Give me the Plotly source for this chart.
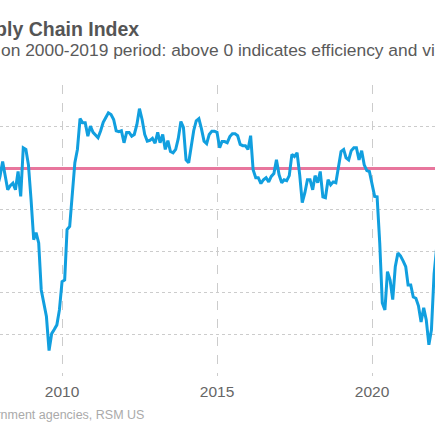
import pandas as pd
import plotly.graph_objects as go

# monthly index values, Dec 2007 .. Feb 2022 (standard deviations)
start_month = "2007-12-01"
index_values = [
    -0.45,
    -0.20, 0.16, -0.16, -0.52, -0.42, -0.36, -0.52, -0.08, -0.68, 0.49, 0.45, 0.08,
    -0.76, -1.72, -1.55, -1.80, -2.93, -3.25, -3.57, -4.39, -3.98, -3.88, -3.77, -3.41,
    -2.73, -2.69, -1.48, -1.40, -0.52, 0.13, 0.45, 1.19, 1.09, 1.09, 0.77, 1.01,
    0.86, 0.80, 0.73, 0.90, 1.10, 1.22, 1.33, 1.29, 1.17, 0.90, 0.88, 0.90,
    0.61, 0.86, 0.86, 0.77, 0.81, 1.05, 1.43, 1.17, 0.81, 0.65, 0.67, 0.72,
    0.60, 0.86, 0.61, 0.81, 0.45, 0.66, 0.40, 0.37, 0.45, 0.71, 1.12, 0.98,
    0.20, 0.13, 0.45, 0.90, 1.14, 1.19, 0.95, 0.65, 0.59, 0.81, 0.89, 0.89,
    0.86, 0.49, 0.64, 0.64, 0.61, 0.76, 0.83, 0.83, 0.78, 0.57, 0.54, 0.54,
    0.45, 0.78, -0.04, -0.23, -0.23, -0.37, -0.28, -0.23, -0.33, -0.20, -0.13, 0.20,
    -0.16, -0.35, -0.28, -0.30, -0.18, 0.33, 0.28, 0.37, -0.16, -0.83, -0.59, -0.28,
    -0.28, -0.52, -0.18, -0.35, -0.08, -0.69, -0.71, -0.28, -0.40, -0.33, -0.35, 0.08,
    0.40, 0.45, 0.25, 0.20, 0.42, 0.49, 0.49, 0.20, 0.42, 0.08, -0.06, -0.08,
    -0.35, -0.68, -0.69, -1.80, -3.24, -3.41, -2.49, -2.69, -3.16, -2.37, -2.04, -2.11,
    -2.23, -2.37, -2.81, -2.81, -3.10, -3.13, -3.31, -3.70, -3.36, -3.65, -4.25, -3.89,
    -2.55, -1.90,
]
months = pd.date_range(start=start_month, periods=len(index_values), freq="MS")

title_text = "<b>RSM US Supply Chain Index</b>"
subtitle_text = "on 2000-2019 period: above 0 indicates efficiency and vice versa"
source_text = "Source: Government agencies, RSM US"

fig = go.Figure()
fig.add_trace(go.Scatter(
    x=months, y=index_values, mode="lines",
    line=dict(color="#119fdf", width=3),
    hoverinfo="skip",
))

fig.update_layout(
    width=435,
    height=435,
    margin=dict(l=0, r=0, t=85, b=59, autoexpand=False),
    plot_bgcolor="white",
    paper_bgcolor="white",
    showlegend=False,
    font=dict(family="Liberation Sans, Arial", color="#666666"),
    xaxis=dict(
        range=["2008-01-01", "2022-01-12"],
        tickvals=["2010-01-01", "2015-01-01", "2020-01-01"],
        ticktext=["2010", "2015", "2020"],
        showgrid=True,
        gridcolor="#cccccc",
        griddash="dash",
        gridwidth=1,
        showline=False,
        zeroline=False,
        ticks="",
        ticklabelstandoff=4,
        tickfont=dict(size=15.5, color="#666666"),
    ),
    yaxis=dict(
        range=[-5, 2],
        dtick=1,
        showgrid=True,
        gridcolor="#cccccc",
        griddash="dot",
        gridwidth=1,
        zeroline=True,
        zerolinecolor="#e8769d",
        zerolinewidth=3,
        showticklabels=False,
        showline=False,
    ),
)

fig.update_layout(annotations=[
    dict(xref="paper", yref="paper", x=140.7 / 435, y=1.193,
         xanchor="right", yanchor="middle", text=title_text,
         font=dict(size=19.5, color="#555555"), showarrow=False),
    dict(xref="paper", yref="paper", x=-1 / 435, y=1.12,
         xanchor="left", yanchor="middle", text=subtitle_text,
         font=dict(size=17.4, color="#5a5a5a"), showarrow=False),
    dict(xref="paper", yref="paper", x=146 / 435, y=-0.133,
         xanchor="right", yanchor="middle", text=source_text,
         font=dict(size=12.5, color="#aaaaaa"), showarrow=False),
])

# drop the page's default body margin so the figure sits at the window corner
fig.write_html("out.html", config={"displayModeBar": False},
               post_script="document.body.style.margin = '0';")
